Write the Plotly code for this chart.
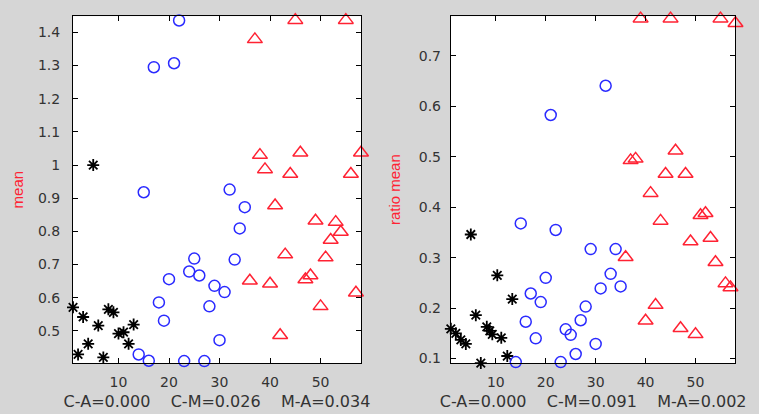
import plotly.graph_objects as go
from plotly.subplots import make_subplots

# left panel: mean
c_x = [1, 2, 3, 4, 5, 6, 7, 8, 9, 10, 11, 12, 13]
c_mean = [0.571, 0.429, 0.542, 0.461, 1.0, 0.516, 0.420, 0.565, 0.556, 0.492, 0.496, 0.461, 0.519]
m_x = list(range(14, 36))
m_mean = [0.429, 0.918, 0.410, 1.295, 0.586, 0.531, 0.656, 1.307, 1.436, 0.409, 0.679,
          0.718, 0.667, 0.409, 0.574, 0.636, 0.472, 0.617, 0.926, 0.715, 0.809, 0.873]
a_x = list(range(36, 59))
a_mean = [0.651, 1.379, 1.030, 0.987, 0.642, 0.878, 0.487, 0.730, 0.973, 1.437, 1.037, 0.655,
          0.667, 0.832, 0.574, 0.721, 0.774, 0.828, 0.798, 1.437, 0.973, 0.615, 1.037]

# right panel: ratio mean
c_x2 = [1, 2, 3, 4, 5, 6, 7, 8.2, 8.8, 9.3, 10.3, 11.1, 12.3, 13.3]
c_ratio = [0.159, 0.150, 0.137, 0.129, 0.346, 0.186, 0.091, 0.163, 0.155, 0.148, 0.265, 0.141, 0.105, 0.218]
m_ratio = [0.093, 0.368, 0.173, 0.229, 0.140, 0.212, 0.260, 0.583, 0.355, 0.093, 0.158,
           0.147, 0.109, 0.176, 0.203, 0.317, 0.129, 0.239, 0.641, 0.268, 0.317, 0.243]
a_ratio = [0.301, 0.493, 0.496, 0.774, 0.175, 0.428, 0.206, 0.373, 0.466, 0.774, 0.512, 0.160,
           0.466, 0.332, 0.148, 0.384, 0.388, 0.339, 0.291, 0.774, 0.249, 0.241, 0.765]

x_ticks = [10, 20, 30, 40, 50]
y1_ticks = [0.5, 0.6, 0.7, 0.8, 0.9, 1.0, 1.1, 1.2, 1.3, 1.4]
y1_text = ["0.5", "0.6", "0.7", "0.8", "0.9", "1", "1.1", "1.2", "1.3", "1.4"]
y2_ticks = [0.1, 0.2, 0.3, 0.4, 0.5, 0.6, 0.7]
y2_text = ["0.1", "0.2", "0.3", "0.4", "0.5", "0.6", "0.7"]

sp = "\u00a0" * 4
x1_title = "C-A=0.000" + sp + "C-M=0.026" + sp + "M-A=0.034"
x2_title = "C-A=0.000" + sp + "C-M=0.091" + sp + "M-A=0.002"

black = "#000000"
blue = "#2a2aff"
red = "#ff2233"
tick_font = dict(family="DejaVu Sans", size=14, color="#333333")
xt_font = dict(family="DejaVu Sans", size=16, color="#333333")
yt_font = dict(family="Liberation Sans, Arial", size=15, color=red)

fig = make_subplots(rows=1, cols=2)


def add_group(x, y, symbol, color, size, width, col):
    fig.add_trace(go.Scatter(x=x, y=y, mode="markers", cliponaxis=False,
                             marker=dict(symbol=symbol, size=size, color=color,
                                         line=dict(color=color, width=width))),
                  row=1, col=col)


add_group(c_x, c_mean, "asterisk-open", black, 10, 1.8, 1)
add_group(m_x, m_mean, "circle-open", blue, 11, 1.5, 1)
add_group(a_x, a_mean, "triangle-up-open", red, 13, 1.5, 1)
add_group(c_x2, c_ratio, "asterisk-open", black, 10, 1.8, 2)
add_group(m_x, m_ratio, "circle-open", blue, 11, 1.5, 2)
add_group(a_x, a_ratio, "triangle-up-open", red, 13, 1.5, 2)

axis = dict(showline=True, linecolor=black, linewidth=1, mirror="ticks", ticks="inside",
            ticklen=5, tickcolor=black, showgrid=False, zeroline=False, tickfont=tick_font,
            automargin=False)

fig.update_xaxes(axis)
fig.update_yaxes(axis)
fig.update_xaxes(range=[1, 58], tickvals=x_ticks, ticklabelstandoff=6,
                 title=dict(text=x1_title, font=xt_font, standoff=6),
                 domain=[0.0962, 0.4756], row=1, col=1)
fig.update_xaxes(range=[1, 58], tickvals=x_ticks, ticklabelstandoff=6,
                 title=dict(text=x2_title, font=xt_font, standoff=6),
                 domain=[0.594, 0.969], row=1, col=2)
fig.update_yaxes(range=[0.403, 1.449], tickvals=y1_ticks, ticktext=y1_text, ticklabelstandoff=9,
                 title=dict(text="mean", font=yt_font, standoff=10), row=1, col=1)
fig.update_yaxes(range=[0.091, 0.779], tickvals=y2_ticks, ticktext=y2_text, ticklabelstandoff=6,
                 title=dict(text="ratio mean", font=yt_font, standoff=14), row=1, col=2)
fig.update_yaxes(domain=[0.123, 0.961])

fig.update_layout(width=759, height=414, showlegend=False,
                  paper_bgcolor="#d6d6d6", plot_bgcolor="#ffffff",
                  margin=dict(l=0, r=0, t=0, b=0))

# drop the default page margin so the figure sits at the window corner
fig.write_html("out.html", config={"displayModeBar": False},
               post_script="document.body.style.margin='0px';")
